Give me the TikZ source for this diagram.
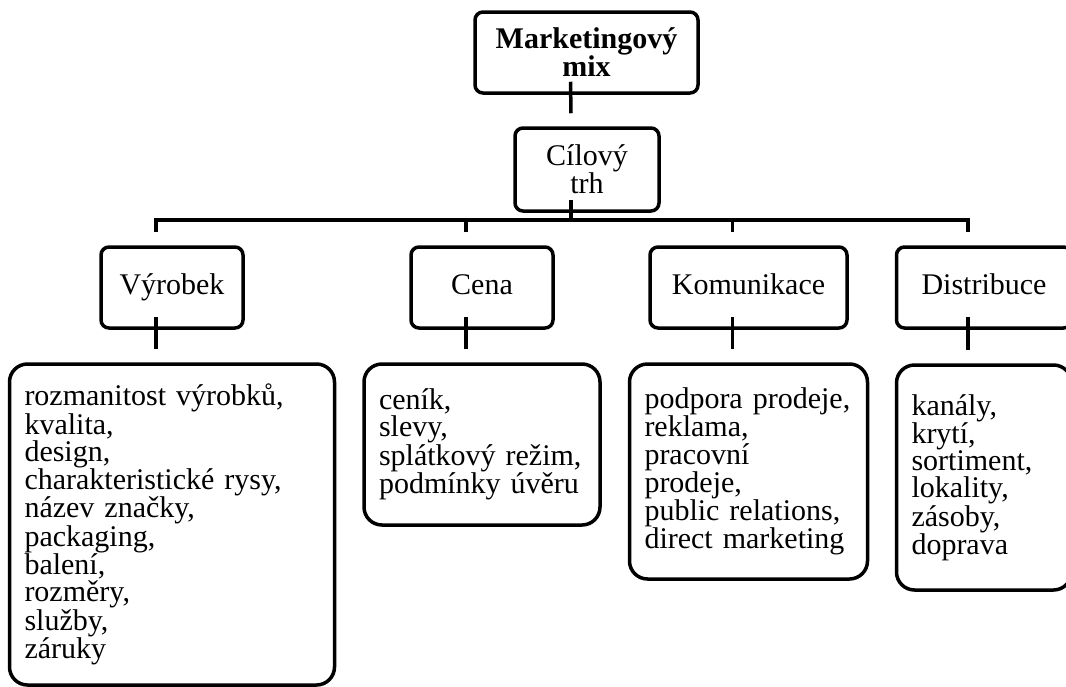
\documentclass[tikz,border=0pt]{standalone}
\usepackage{fontspec}
\setmainfont{Liberation Serif}
\usetikzlibrary{calc}

\begin{document}
\begin{tikzpicture}[x=1pt, y=-1pt, line width=3.5pt,
     every node/.style={font=\fontsize{30}{27.2}\selectfont},
     box/.style={draw, fill=white, rounded corners=8pt, inner sep=0pt, align=center},
     mixbox/.style={box, font=\fontsize{30}{28}\selectfont\bfseries},
     headbox/.style={box, minimum width=142pt, minimum height=81pt, text height=20pt, text depth=6pt},
     itembox/.style={box, rounded corners=18pt, align=left, inner xsep=15pt},
     wordshift/.style={shift={(-16pt,13pt)}}]

   \path[use as bounding box, fill=white] (0,0) rectangle (1066,686);

   \node[mixbox, minimum width=223pt, minimum height=81pt] (mix) at (586.5,52.5) {Marketingový\\mix};
   \node[box, minimum width=144pt, minimum height=83pt] (trh) at (587,169.5) {Cílový\\trh};

   \node[headbox] (vyrobek) at (172,287.5) {Výrobek};
   \node[headbox] (cena) at (482,287.5) {Cena};
   \node[headbox, minimum width=197pt] (komunikace) at (748.5,287.5) {Komunikace};
   \node[headbox, minimum width=175pt] (distribuce) at (984,287.5) {Distribuce};

   \node[itembox, text width=295pt, minimum height=321pt] (vyrobek-detail) at (172,524.5)
     {rozmanitost výrobků,\\kvalita,\\design,\\charakteristické rysy,\\název značky,\\packaging,\\balení,\\rozměry,\\služby,\\záruky};
   \node[itembox, text width=206pt, minimum height=161pt] (cena-detail) at (482,444.5)
     {ceník,\\slevy,\\splátkový režim,\\podmínky úvěru};
   \node[itembox, text width=208pt, minimum height=215pt] (komunikace-detail) at (748.5,471.5)
     {podpora prodeje,\\reklama,\\pracovní\\prodeje,\\public relations,\\direct marketing};
   \node[itembox, text width=145pt, minimum height=225pt] (distribuce-detail) at (984,477.5)
     {kanály,\\krytí,\\sortiment,\\lokality,\\zásoby,\\doprava};

   \coordinate (bus) at (0,220);
   \draw ([wordshift]mix.south) -- ([wordshift]trh.north);
   \draw ([wordshift]trh.south) -- ($(trh.south |- bus)+(-16pt,0)$);
   \draw ([wordshift]vyrobek.north) -- ($(vyrobek.north |- bus)+(-16pt,0)$)
     -- ($(distribuce.north |- bus)+(-16pt,0)$) -- ([wordshift]distribuce.north);
   \foreach \n in {cena, komunikace}
     \draw ([wordshift]\n.north) -- ($(\n.north |- bus)+(-16pt,0)$);
   \foreach \n in {vyrobek, cena, komunikace, distribuce}
     \draw ([wordshift]\n.south) -- ([wordshift]\n-detail.north);
\end{tikzpicture}
\end{document}
